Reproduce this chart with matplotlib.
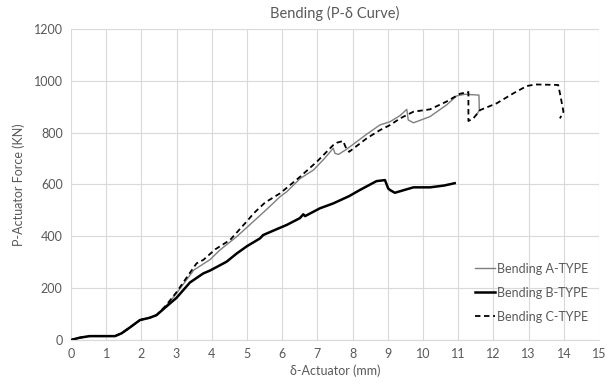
import matplotlib
matplotlib.use("Agg")
import matplotlib.pyplot as plt

# Bending A-TYPE (thin grey)
a_x = [0, 0.25, 0.53, 1.25, 1.44, 1.68, 1.96, 2.24, 2.43, 2.71, 3.0, 3.49, 3.57, 3.95,
       4.23, 4.71, 5.18, 5.56, 5.94, 6.13, 6.51, 6.89, 7.2, 7.45, 7.5, 7.6, 7.83, 8.4,
       8.78, 9.06, 9.35, 9.54, 9.58, 9.73, 10.2, 10.67, 10.96, 11.19, 11.59, 11.6, 11.52]
a_y = [0, 9, 15, 15, 26, 49, 77, 86, 96, 133, 180, 270, 277, 310,
       347, 399, 457, 504, 553, 572, 623, 656, 700, 740, 720, 716, 736, 794,
       830, 842, 866, 890, 849, 838, 862, 907, 942, 948, 945, 887, 868]

# Bending B-TYPE (thick black)
b_x = [0, 0.25, 0.53, 1.25, 1.44, 1.68, 1.96, 2.24, 2.43, 2.71, 3.0, 3.38, 3.76, 3.95,
       4.42, 4.71, 5.0, 5.37, 5.46, 5.8, 6.13, 6.5, 6.6, 6.65, 7.07, 7.45, 7.9, 8.21,
       8.68, 8.92, 9.01, 9.06, 9.2, 9.5, 9.73, 10.2, 10.6, 10.9]
b_y = [0, 9, 15, 15, 26, 49, 77, 86, 96, 129, 163, 222, 257, 268,
       302, 334, 362, 392, 405, 425, 444, 470, 485, 478, 508, 527, 555, 579,
       613, 617, 585, 579, 568, 580, 589, 589, 596, 605]

# Bending C-TYPE (dashed)
c_x = [0, 0.25, 0.53, 1.25, 1.44, 1.68, 1.96, 2.24, 2.43, 2.71, 3.0, 3.47, 3.57, 3.76,
       4.1, 4.52, 4.99, 5.2, 5.51, 5.94, 6.51, 7.0, 7.45, 7.55, 7.73, 7.8, 7.9, 8.4,
       8.78, 9.06, 9.35, 9.73, 10.2, 10.67, 11.05, 11.29, 11.29, 11.43, 11.62, 12.09,
       12.57, 12.95, 13.2, 13.84, 13.89, 13.99, 13.89]
c_y = [0, 9, 15, 15, 26, 49, 77, 86, 96, 135, 185, 277, 296, 309,
       350, 386, 457, 490, 530, 566, 630, 690, 752, 761, 768, 745, 726, 778,
       810, 829, 855, 881, 890, 920, 950, 957, 845, 855, 887, 913,
       952, 980, 986, 984, 952, 881, 855]

x_ticks = list(range(0, 16))
y_ticks = [0, 200, 400, 600, 800, 1000, 1200]

plt.rcParams["font.family"] = ["Lato", "DejaVu Sans"]
txt = "#595959"

fig = plt.figure(figsize=(6.15, 3.88), dpi=100)
ax = fig.add_axes([0.1154, 0.1237, 0.8586, 0.8016])

ax.plot(a_x, a_y, color="#7f7f7f", lw=1.0, label="Bending A-TYPE")
ax.plot(b_x, b_y, color="black", lw=1.8, label="Bending B-TYPE")
ax.plot(c_x, c_y, color="black", lw=1.3, ls=(0, (3, 2)), label="Bending C-TYPE")

ax.set_xlim(0, 15)
ax.set_ylim(0, 1200)
ax.set_xticks(x_ticks)
ax.set_yticks(y_ticks)
ax.grid(True, color="#d9d9d9", lw=0.8)
ax.set_axisbelow(True)
for s in ["top", "right", "left"]:
    ax.spines[s].set_visible(False)
ax.spines["bottom"].set_color("#d9d9d9")
ax.tick_params(length=0, labelsize=9, colors=txt, pad=6)

ax.set_title("Bending (P-δ Curve)", fontsize=10.5, color=txt, pad=8)
ax.set_xlabel("δ-Actuator (mm)", fontsize=9, color=txt, labelpad=3)
ax.set_ylabel("P-Actuator Force (KN)", fontsize=9, color=txt, labelpad=6)

leg = ax.legend(loc="lower right", bbox_to_anchor=(1.0, 0.02), frameon=False,
                fontsize=9, handlelength=1.6, handletextpad=0.1, labelspacing=0.95)
for t in leg.get_texts():
    t.set_color(txt)

fig.savefig("out.png", dpi=100)
